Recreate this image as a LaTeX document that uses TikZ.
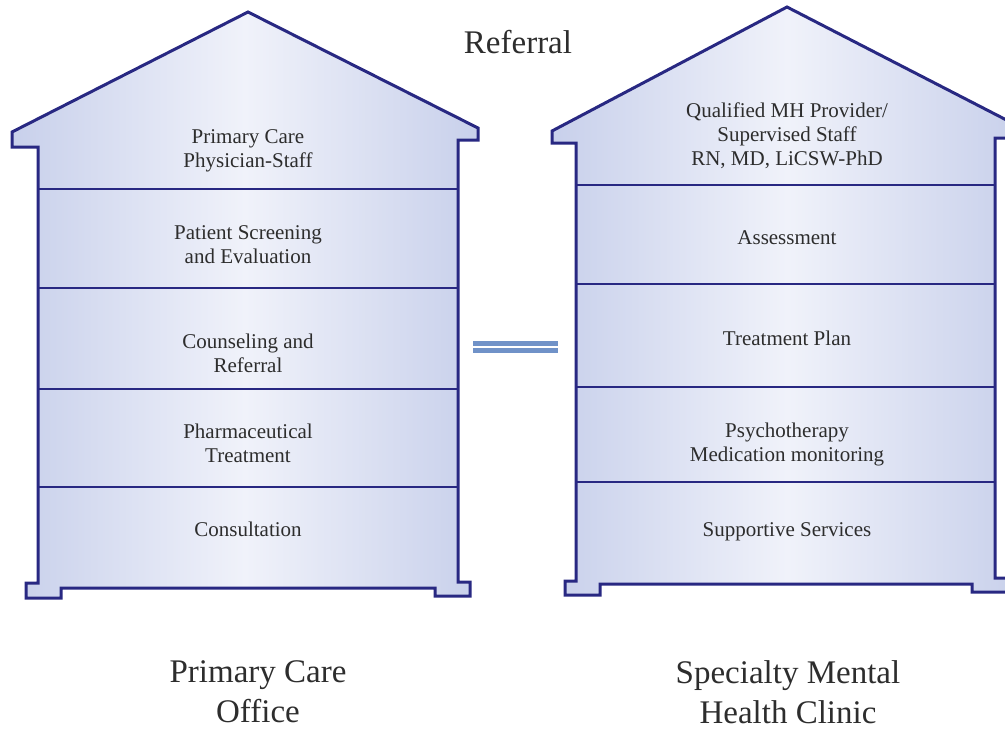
\documentclass[tikz,border=0pt]{standalone}
\usepackage{fontspec}
\setmainfont{Liberation Serif}
\definecolor{housedraw}{RGB}{40,40,130}
\definecolor{houseedge}{RGB}{200,208,235}
\definecolor{housemid}{RGB}{240,242,250}
\definecolor{txt}{RGB}{45,45,45}
\definecolor{eqcol}{RGB}{112,146,200}
\tikzset{
  housebody/.style={draw=housedraw, line width=3pt, line join=miter,
    left color=houseedge, right color=houseedge, middle color=housemid},
  floorline/.style={draw=housedraw, line width=2.6pt},
  roomtext/.style={text=txt, align=center, font=\fontsize{21}{24}\selectfont},
  bigtext/.style={text=txt, align=center, font=\fontsize{33}{40}\selectfont},
  eqbar/.style={fill=eqcol, draw=none}
}
\begin{document}
\begin{tikzpicture}[x=1pt,y=-1pt]
\useasboundingbox (0,0) rectangle (1005,729);
\clip (0,0) rectangle (1005,729);
% left house
\path[housebody] (248,12) -- (478,128) -- (478,140) -- (458,140) -- (458,582)
  -- (470,582) -- (470,596) -- (435,596) -- (435,588) -- (61,588) -- (61,598)
  -- (26,598) -- (26,583) -- (38,583) -- (38,147) -- (12,147) -- (12,132) -- cycle;
\foreach \yy in {189,288,389,487} \draw[floorline] (38,\yy) -- (458,\yy);
% right house
\path[housebody] (787,7) -- (1022,128) -- (1022,138) -- (995,138) -- (995,578)
  -- (1012,578) -- (1012,592) -- (972,592) -- (972,584) -- (600,584) -- (600,595)
  -- (565,595) -- (565,581) -- (576,581) -- (576,143) -- (552,143) -- (552,131) -- cycle;
\foreach \yy in {185,284,387,482} \draw[floorline] (576,\yy) -- (995,\yy);
% equal sign
\fill[eqbar] (473,341) rectangle (558,346);
\fill[eqbar] (473,348) rectangle (558,353);
% texts
\node[bigtext] (ref) at (518,42) {Referral};
\node[roomtext] (l1) at (248,151) {Primary Care\\Physician-Staff};
\node[roomtext] (l2) at (248,245) {Patient Screening\\and Evaluation};
\node[roomtext] (l3) at (248,353) {Counseling and\\Referral};
\node[roomtext] (l4) at (248,443) {Pharmaceutical\\Treatment};
\node[roomtext] (l5) at (248,529) {Consultation};
\node[roomtext] (r1) at (787,136) {Qualified MH Provider/\\Supervised Staff\\RN, MD, LiCSW-PhD};
\node[roomtext] (r2) at (787,238) {Assessment};
\node[roomtext] (r3) at (787,338) {Treatment Plan};
\node[roomtext] (r4) at (787,444) {Psychotherapy\\Medication monitoring};
\node[roomtext] (r5) at (787,532) {Supportive Services};
\node[bigtext] (lt) at (258,692) {Primary Care\\Office};
\node[bigtext] (rt) at (788,692) {Specialty Mental\\Health Clinic};
\end{tikzpicture}
\end{document}
